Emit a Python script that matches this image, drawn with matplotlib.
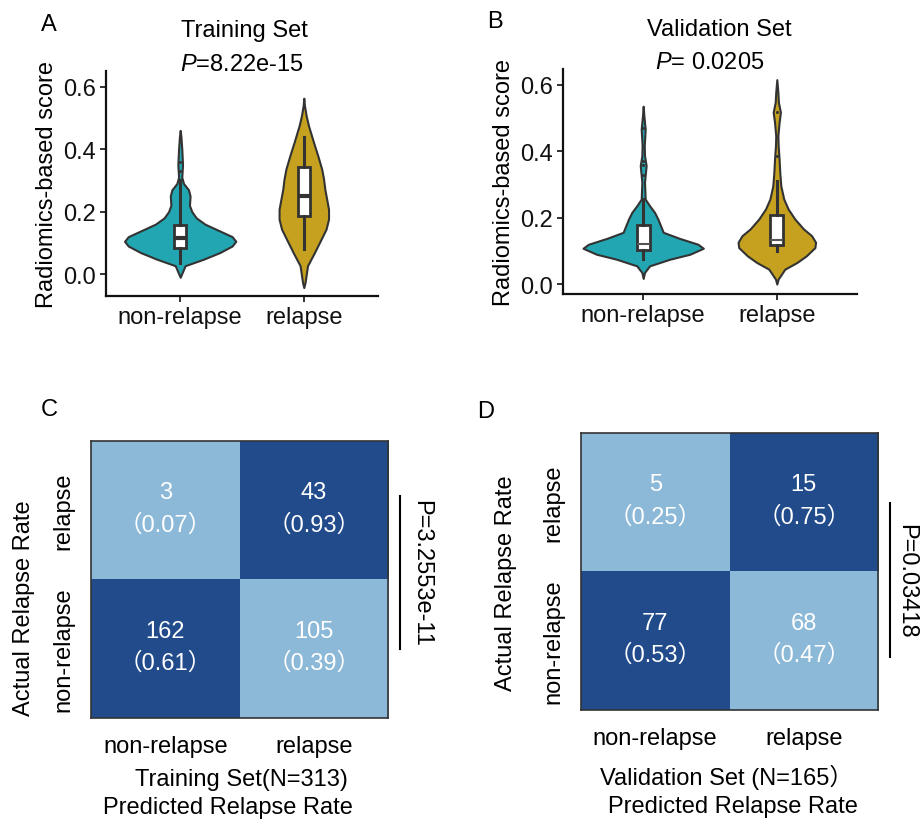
import numpy as np
import matplotlib.pyplot as plt
from matplotlib.colors import ListedColormap, BoundaryNorm

plt.rcParams['font.family'] = ['Liberation Sans', 'Noto Sans CJK SC']
plt.rcParams['mathtext.fontset'] = 'custom'
plt.rcParams['mathtext.it'] = 'Liberation Sans:italic'
plt.rcParams['mathtext.rm'] = 'Liberation Sans'

groups = ['non-relapse', 'relapse']
violin_colors = ['#22A7B2', '#C5A11F']
cell_colors = ['#8DB9D9', '#214B8B']
line_dark = '#333333'

# violin outlines: score level -> half width (in category units)
train_nr_y = [-0.01, 0.027, 0.048, 0.069, 0.09, 0.105, 0.12, 0.14, 0.16, 0.18, 0.20, 0.22,
              0.25, 0.27, 0.29, 0.31, 0.35, 0.40, 0.44, 0.46]
train_nr_w = [0.0, 0.04, 0.19, 0.32, 0.42, 0.45, 0.42, 0.31, 0.20, 0.13, 0.094, 0.075,
              0.08, 0.067, 0.027, 0.013, 0.019, 0.013, 0.006, 0.0]
train_r_y = [-0.043, -0.027, 0.027, 0.069, 0.112, 0.144, 0.176, 0.208, 0.24, 0.272, 0.304,
             0.336, 0.379, 0.42, 0.475, 0.507, 0.54, 0.563]
train_r_w = [0.0, 0.01, 0.03, 0.086, 0.14, 0.18, 0.20, 0.20, 0.185, 0.17, 0.16,
             0.145, 0.113, 0.08, 0.038, 0.019, 0.005, 0.0]
valid_nr_y = [0.017, 0.035, 0.055, 0.075, 0.09, 0.108, 0.12, 0.138, 0.156, 0.176, 0.196,
              0.216, 0.236, 0.256, 0.307, 0.357, 0.387, 0.417, 0.467, 0.508, 0.536]
valid_nr_w = [0.0, 0.01, 0.048, 0.20, 0.35, 0.45, 0.41, 0.27, 0.15, 0.13, 0.11,
              0.085, 0.048, 0.015, 0.01, 0.022, 0.01, 0.008, 0.015, 0.005, 0.0]
valid_r_y = [0.0, 0.015, 0.045, 0.065, 0.085, 0.11, 0.126, 0.146, 0.166, 0.196, 0.226,
             0.256, 0.296, 0.337, 0.377, 0.417, 0.447, 0.487, 0.518, 0.548, 0.578, 0.616]
valid_r_w = [0.0, 0.01, 0.06, 0.15, 0.22, 0.285, 0.29, 0.26, 0.20, 0.135, 0.085,
             0.052, 0.03, 0.022, 0.017, 0.01, 0.008, 0.017, 0.027, 0.012, 0.008, 0.0]

# box summaries
train_boxes = [dict(whislo=0.037, q1=0.085, med=0.117, q3=0.158, whishi=0.30, fliers=[0.33, 0.36]),
               dict(whislo=0.082, q1=0.185, med=0.251, q3=0.342, whishi=0.44, fliers=[])]
valid_boxes = [dict(whislo=0.075, q1=0.104, med=0.121, q3=0.178, whishi=0.256,
                    fliers=[0.33, 0.36, 0.37, 0.47]),
               dict(whislo=0.10, q1=0.119, med=0.134, q3=0.208, whishi=0.31,
                    fliers=[0.385, 0.52])]

# confusion matrices (rows: actual relapse, non-relapse; cols: predicted)
row_labels = ['relapse', 'non-relapse']
train_counts = [[3, 43], [162, 105]]
train_rates = [[0.07, 0.93], [0.61, 0.39]]
valid_counts = [[5, 15], [77, 68]]
valid_rates = [[0.25, 0.75], [0.53, 0.47]]

FS = 17

fig = plt.figure(figsize=(9.21, 8.2), dpi=100)


def violin_panel(ax, outlines, boxes, title, ptext, tx, med_lw, med_color):
    for i, (ys, ws) in enumerate(outlines):
        ys = np.array(ys)
        ws = np.array(ws)
        ax.fill_betweenx(ys, i - ws, i + ws, facecolor=violin_colors[i],
                         edgecolor=line_dark, linewidth=1.5, zorder=2)
    ax.bxp(boxes, positions=[0, 1], widths=0.1, showcaps=False, showfliers=True,
           patch_artist=True,
           boxprops=dict(facecolor='white', edgecolor=line_dark, linewidth=2),
           whiskerprops=dict(color=line_dark, linewidth=2.2),
           medianprops=dict(color=med_color, linewidth=med_lw),
           flierprops=dict(marker='o', markersize=2.2, markerfacecolor=line_dark,
                           markeredgecolor='none'),
           zorder=3)
    ax.set_xlim(-0.6, 1.6)
    ax.set_xticks([0, 1])
    ax.set_xticklabels(groups, fontsize=FS)
    ax.set_yticks([0.0, 0.2, 0.4, 0.6])
    ax.set_yticklabels(['0.0', '0.2', '0.4', '0.6'], fontsize=FS)
    for s in ['top', 'right']:
        ax.spines[s].set_visible(False)
    for s in ['left', 'bottom']:
        ax.spines[s].set_linewidth(1.6)
        ax.spines[s].set_color('#111111')
    ax.tick_params(length=4, width=1.2, pad=3, colors='#111111')
    ax.set_ylabel('Radiomics-based score', fontsize=FS, labelpad=4)
    ax.text(tx, 1.18, title, transform=ax.transAxes, ha='center', va='center', fontsize=FS)
    ax.text(0.5, 1.03, ptext, transform=ax.transAxes, ha='center', va='center', fontsize=FS)


def matrix_panel(ax, counts, rates, ptext, pline, px, line1, line2):
    rates = np.array(rates)
    cmap = ListedColormap(cell_colors)
    norm = BoundaryNorm([0, 0.5, 1], 2)
    ax.imshow(rates, cmap=cmap, norm=norm, aspect='auto')
    for r in range(2):
        for c in range(2):
            ax.text(c, r - 0.13, str(counts[r][c]), ha='center', va='center',
                    color='white', fontsize=FS)
            ax.text(c, r + 0.1, '（%.2f）' % rates[r][c], ha='center', va='center',
                    color='white', fontsize=FS)
    ax.set_xticks([0, 1])
    ax.set_xticklabels(groups, fontsize=FS)
    ax.set_yticks([0, 1])
    ax.set_yticklabels(row_labels, fontsize=FS, rotation=90, va='center')
    ax.tick_params(length=0)
    ax.tick_params(axis='x', pad=12)
    ax.tick_params(axis='y', pad=12)
    for s in ax.spines.values():
        s.set_linewidth(1.2)
        s.set_color(line_dark)
    ax.set_ylabel('Actual Relapse Rate', fontsize=FS)
    ax.plot([1.04, 1.04], pline, color='black', linewidth=1.5,
            transform=ax.transAxes, clip_on=False)
    ax.text(px, 0.5 * (pline[0] + pline[1]), ptext, rotation=270, ha='center',
            va='center', fontsize=FS, transform=ax.transAxes)
    ax.text(line1[0], line1[1], line1[2], transform=ax.transAxes, ha='center',
            va='center', fontsize=FS)
    ax.text(line2[0], line2[1], line2[2], transform=ax.transAxes, ha='center',
            va='center', fontsize=FS)


axA = fig.add_axes([0.1151, 0.6378, 0.2953, 0.2744])
axA.set_ylim(-0.07, 0.65)
violin_panel(axA, [(train_nr_y, train_nr_w), (train_r_y, train_r_w)], train_boxes,
             'Training Set', '$\\it{P}$=8.22e-15', 0.51, 3, line_dark)

axB = fig.add_axes([0.6113, 0.6402, 0.3192, 0.2744])
axB.set_ylim(-0.03, 0.648)
violin_panel(axB, [(valid_nr_y, valid_nr_w), (valid_r_y, valid_r_w)], valid_boxes,
             'Validation Set', '$\\it{P}$= 0.0205', 0.53, 1.5, '#555555')

axC = fig.add_axes([0.0988, 0.1232, 0.3225, 0.3378])
matrix_panel(axC, train_counts, train_rates, 'P=3.2553e-11', [0.801, 0.249], 1.11,
             (0.505, -0.22, 'Training Set(N=313)'), (0.46, -0.32, 'Predicted Relapse Rate'))
axC.yaxis.set_label_coords(-0.19, 0.40)

axD = fig.add_axes([0.6308, 0.1329, 0.3225, 0.3378])
matrix_panel(axD, valid_counts, valid_rates, 'P=0.03418', [0.747, 0.191], 1.095,
             (0.49, -0.24, 'Validation Set (N=165）'), (0.51, -0.345, 'Predicted Relapse Rate'))
axD.yaxis.set_label_coords(-0.215, 0.46)

for lbl, x, y in [('A', 49, 25), ('B', 495, 22), ('C', 49, 410), ('D', 486, 412)]:
    fig.text(x / 921, 1 - y / 820, lbl, ha='center', va='center', fontsize=17)

fig.savefig('out.png', dpi=100)
